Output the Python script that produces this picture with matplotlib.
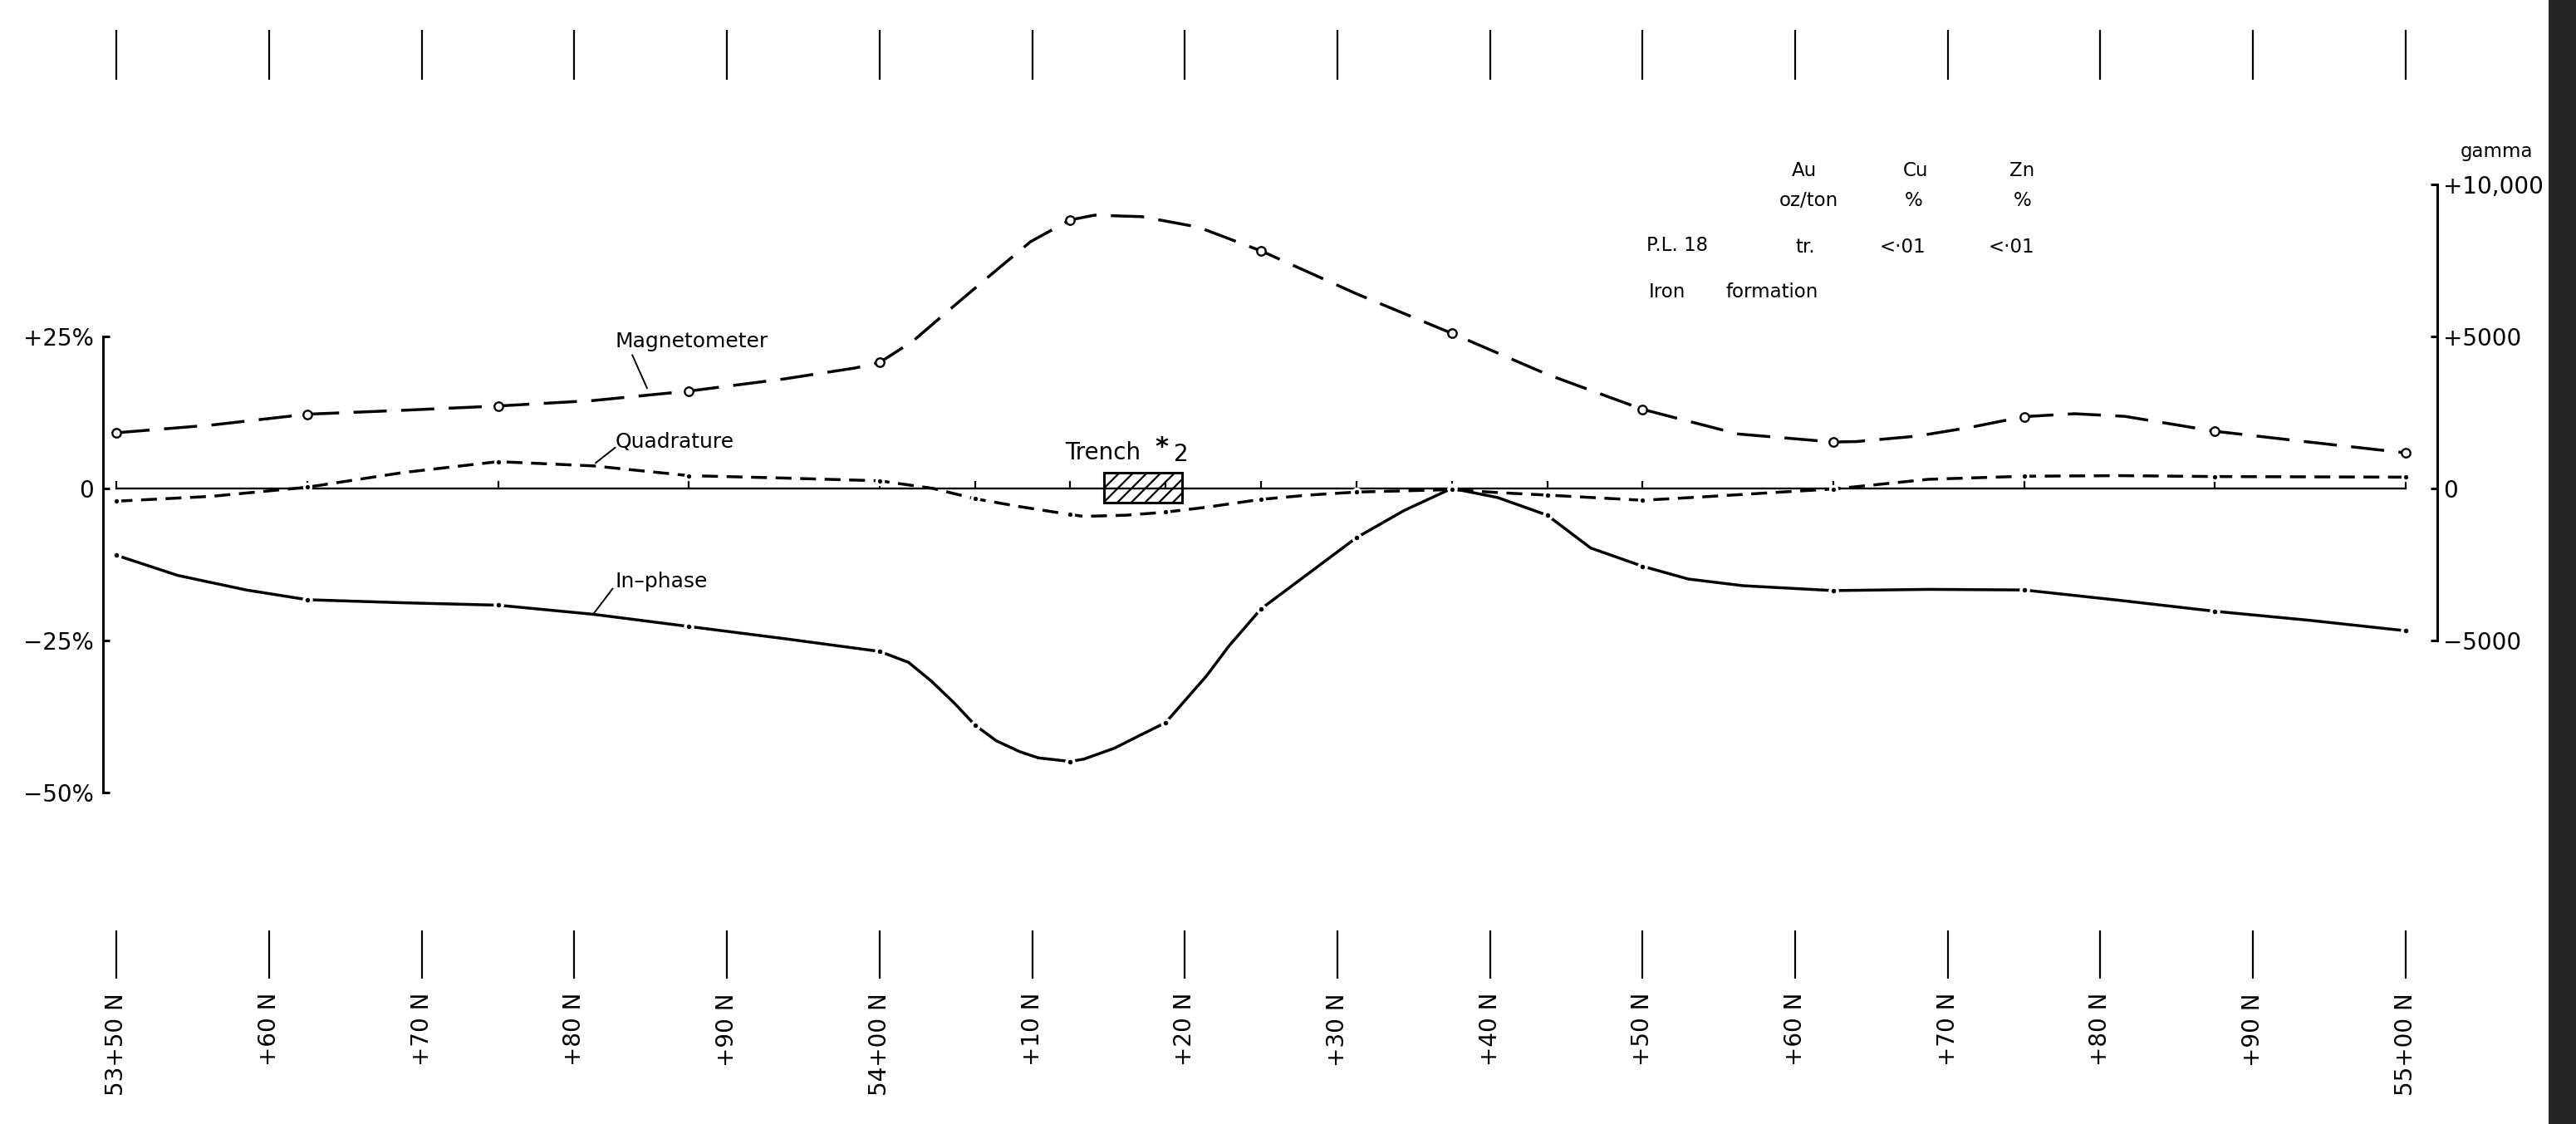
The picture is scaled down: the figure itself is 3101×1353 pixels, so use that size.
import matplotlib.pyplot as plt
import numpy as np
from matplotlib.patches import Rectangle

# Stations are in feet along the line: 53+50 N -> 5350, 55+00 N -> 5500.
label_station = [5350, 5360, 5370, 5380, 5390, 5400, 5410, 5420,
                 5430, 5440, 5450, 5460, 5470, 5480, 5490, 5500]
station_labels = ["53+50 N", "+60 N", "+70 N", "+80 N", "+90 N", "54+00 N",
                  "+10 N", "+20 N", "+30 N", "+40 N", "+50 N", "+60 N",
                  "+70 N", "+80 N", "+90 N", "55+00 N"]

# EM readings (percent)
em_station = np.array([5350, 5362.5, 5375, 5387.5, 5400, 5406.25, 5412.5, 5418.75,
                       5425, 5431.25, 5437.5, 5443.75, 5450, 5462.5, 5475, 5487.5, 5500])
inphase = np.array([-11.0, -18.3, -19.2, -22.7, -26.8, -38.9, -44.9, -38.5,
                    -19.8, -8.1, 0.0, -4.4, -12.8, -16.8, -16.7, -20.2, -23.4])
quadrature = np.array([-2.1, 0.2, 4.4, 2.1, 1.25, -1.7, -4.3, -3.9,
                       -1.8, -0.6, -0.2, -1.1, -1.95, -0.1, 2.0, 1.95, 1.85])

# extra points traced along the hand-drawn curves between readings
inphase_trace_station = np.array([5354, 5358.5, 5368.75, 5381.25, 5393.75, 5401.9, 5403.4,
                                  5404.9, 5407.65, 5409.2, 5410.4, 5413.4, 5415.4, 5416.9,
                                  5421.4, 5422.9, 5428.1, 5434.4, 5440.5, 5446.6, 5453,
                                  5456.6, 5468.75, 5481.25, 5493.75])
inphase_trace = np.array([-14.3, -16.7, -18.8, -20.7, -24.7, -28.6, -31.7,
                          -35.3, -41.5, -43.3, -44.3, -44.5, -42.7, -40.8,
                          -30.9, -25.9, -14.0, -3.6, -1.5, -9.8, -14.9,
                          -16.0, -16.6, -18.4, -21.7])
quad_trace_station = np.array([5356.25, 5368.75, 5381.25, 5393.75, 5403.5, 5409.2, 5413.4,
                               5416.2, 5421.4, 5428.1, 5440.6, 5453.9, 5459.1, 5468.75,
                               5481.25, 5493.75])
quad_trace = np.array([-1.3, 2.6, 3.7, 1.7, 0.0, -3.0, -4.6,
                       -4.4, -3.1, -1.1, -0.7, -1.4, -0.6, 1.5,
                       2.1, 1.9])

# magnetometer readings (gamma)
mag_station = np.array([5350, 5362.5, 5375, 5387.5, 5400, 5412.5, 5425,
                        5437.5, 5450, 5462.5, 5475, 5487.5, 5500])
mag_gamma = np.array([1830, 2440, 2710, 3200, 4140, 8830, 7810,
                      5100, 2600, 1525, 2360, 1880, 1170])
mag_trace_station = np.array([5356.25, 5368.75, 5381.25, 5393.75, 5398.4, 5401.2, 5402.2,
                              5404.9, 5407.4, 5409.9, 5414.1, 5417.2, 5420.9, 5431.25,
                              5443.75, 5456.25, 5464, 5468, 5471.5, 5478.3, 5481.6,
                              5493.75])
mag_trace = np.array([2085, 2568, 2890, 3600, 3960, 4525, 4850,
                      6010, 7070, 8115, 8985, 8935, 8590, 6400,
                      3750, 1790, 1540, 1720, 2010, 2455, 2370,
                      1520])

# trench #2 outline (station ft, percent)
trench_x = (5414.7, 5419.8)
trench_y = (-2.3, 2.6)

W, H = 3101, 1353
GAMMA_PER_PCT = 200

plt.rcParams["hatch.linewidth"] = 1.6


def merged(x_a, y_a, x_b, y_b):
    x = np.concatenate([x_a, x_b])
    y = np.concatenate([y_a, y_b])
    order = np.argsort(x)
    return x[order], y[order]


def fig_text(fig, x, y, s, **kw):
    # position in pixels from the top-left corner
    fig.text(x / W, 1 - y / H, s, **kw)


fig = plt.figure(figsize=(W / 100, H / 100), dpi=100)
ax = fig.add_axes([0, 0, 1, 1])
ax.set_xlim(5342.36, 5511.17)
ax.set_ylim(-104.5, 80.3)
ax2 = ax.twinx()
ax2.set_ylim(-104.5 * GAMMA_PER_PCT, 80.3 * GAMMA_PER_PCT)

# left (percent) axis
for side in ["top", "right", "bottom"]:
    ax.spines[side].set_visible(False)
ax.spines["left"].set_position(("data", 5349.1))
ax.spines["left"].set_bounds(-50, 25)
ax.spines["left"].set_linewidth(2.2)
ax.set_xticks([])
ax.set_yticks([25, 0, -25, -50])
ax.set_yticklabels(["+25%", "0", "\u221225%", "\u221250%"])
ax.tick_params(axis="y", direction="in", length=6, width=2.2, pad=8, labelsize=20)

# right (gamma) axis
for side in ["top", "left", "bottom"]:
    ax2.spines[side].set_visible(False)
ax2.spines["right"].set_position(("data", 5502.07))
ax2.spines["right"].set_bounds(-5000, 10000)
ax2.spines["right"].set_linewidth(2.2)
ax2.set_yticks([10000, 5000, 0, -5000])
ax2.set_yticklabels(["+10,000", "+5000", "0", "\u22125000"])
ax2.tick_params(axis="y", direction="in", length=6, width=2.2, pad=5, labelsize=20)

# station pickets above and below the profile
xt = ax.get_xaxis_transform()
ax.vlines(label_station, 1 - 96 / H, 1 - 36 / H, transform=xt, color="black", lw=1.6)
ax.vlines(label_station, 1 - 1178 / H, 1 - 1120 / H, transform=xt, color="black", lw=1.6)
for s, lab in zip(label_station, station_labels):
    ax.text(s, 1 - 1195 / H, lab, transform=xt, rotation=90, ha="center", va="top",
            fontsize=20)

# zero line with reading ticks
ax.plot([em_station[0], em_station[-1]], [0, 0], color="black", lw=1.7)
ax.vlines(em_station, 0, 1.2, color="black", lw=1.6)

# trench
ax.add_patch(Rectangle((trench_x[0], trench_y[0]), trench_x[1] - trench_x[0],
                       trench_y[1] - trench_y[0], fill=False, hatch="//",
                       edgecolor="black", lw=2.2, zorder=3))

# in-phase: solid line broken at each reading
x_ip, y_ip = merged(em_station, inphase, inphase_trace_station, inphase_trace)
ax.plot(x_ip, y_ip, color="black", lw=2.5, solid_capstyle="round", solid_joinstyle="round")
ax.plot(em_station, inphase, "o", ms=6.5, mfc="black", mec="white", mew=2.5, zorder=4)

# quadrature: short dashes
x_q, y_q = merged(em_station, quadrature, quad_trace_station, quad_trace)
ax.plot(x_q, y_q, color="black", lw=2.5, dashes=(5.5, 3))
ax.plot(em_station, quadrature, "o", ms=6, mfc="black", mec="white", mew=2.2, zorder=4)

# magnetometer: long dashes with open circles
x_m, y_m = merged(mag_station, mag_gamma, mag_trace_station, mag_trace)
ax2.plot(x_m, y_m, color="black", lw=2.5, dashes=(11.5, 5))
ax2.plot(mag_station, mag_gamma, "o", ms=7.5, mfc="white", mec="black", mew=1.7, zorder=4)

# curve labels with leaders
ax.text(5382.65, 24.1, "Magnetometer", ha="left", va="center", fontsize=18)
ax.plot([5383.8, 5384.76], [21.9, 16.5], color="black", lw=1.4)
ax.text(5382.67, 7.6, "Quadrature", ha="left", va="center", fontsize=18)
ax.plot([5382.67, 5381.4], [6.7, 4.2], color="black", lw=1.4)
ax.text(5382.67, -15.3, "In\u2013phase", ha="left", va="center", fontsize=18)
ax.plot([5382.5, 5381.2], [-16.5, -20.8], color="black", lw=1.4)

ax.text(5412.15, 5.9, "Trench", ha="left", va="center", fontsize=20)
ax.text(5418.5, 6.8, "*", ha="center", va="center", fontsize=22, fontweight="bold")
ax.text(5419.3, 5.6, "2", ha="left", va="center", fontsize=20)

# assay table
tk = dict(ha="center", va="center", fontsize=16.5)
fig_text(fig, 2172, 205, "Au", **tk)
fig_text(fig, 2306, 206, "Cu", **tk)
fig_text(fig, 2434, 206, "Zn", **tk)
fig_text(fig, 2177, 241, "oz/ton", **tk)
fig_text(fig, 2304, 242, "%", **tk)
fig_text(fig, 2435, 242, "%", **tk)
fig_text(fig, 1982, 296, "P.L. 18", ha="left", va="center", fontsize=16.5)
fig_text(fig, 2173, 297, "tr.", **tk)
fig_text(fig, 2290, 297, "<\u00b701", **tk)
fig_text(fig, 2421, 297, "<\u00b701", **tk)
fig_text(fig, 1985, 351, "Iron", ha="left", va="center", fontsize=16.5)
fig_text(fig, 2077, 351, "formation", ha="left", va="center", fontsize=16.5)
fig_text(fig, 2962, 183, "gamma", ha="left", va="center", fontsize=16.5)

# dark scanned edge on the right
fig.patches.append(Rectangle((3068 / W, 0), 33 / W, 1, transform=fig.transFigure,
                             facecolor="#262626", edgecolor="none"))

fig.savefig("out.png", dpi=100, facecolor="white")
